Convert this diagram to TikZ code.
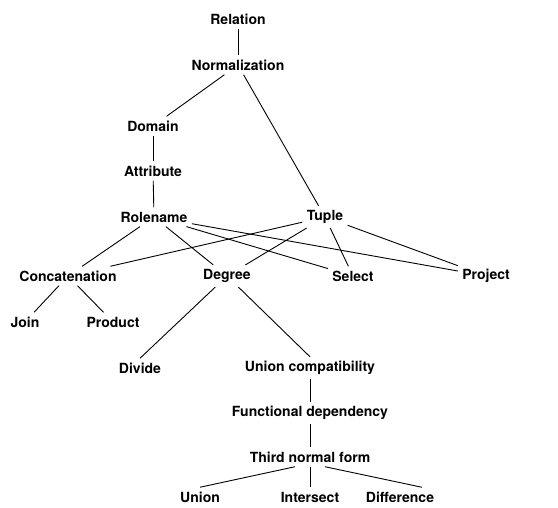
\documentclass[tikz,border=0pt]{standalone}
\usepackage{fontspec}
\setmainfont{TeX Gyre Heros}
\usepackage{tikz}
\usetikzlibrary{positioning}

\begin{document}
\begin{tikzpicture}[x=1pt,y=-1pt,line width=0.9pt,
  every node/.style={font=\fontsize{14}{16}\bfseries,inner sep=4pt}]
  \useasboundingbox (0,0) rectangle (558,508);
  \node (rel) at (238,19) {Relation};
  \node (norm) at (238,65) {Normalization};
  \node (dom) at (153,126) {Domain};
  \node (attr) at (153,171) {Attribute};
  \node (role) at (154,217) {Rolename};
  \node (tup) at (325,217) {Tuple};
  \node (conc) at (68,276) {Concatenation};
  \node (deg) at (227,276) {Degree};
  \node (sel) at (353,276) {Select};
  \node (proj) at (486,276) {Project};
  \node (join) at (25,322) {Join};
  \node (prod) at (113,322) {Product};
  \node (div) at (140,368) {Divide};
  \node (ucomp) at (310,368) {Union compatibility};
  \node (fdep) at (310,413) {Functional dependency};
  \node (tnf) at (310,457) {Third normal form};
  \node (un) at (200,497) {Union};
  \node (inter) at (310,497) {Intersect};
  \node (diff) at (400,497) {Difference};
  \draw (rel) -- (norm);
  \draw (norm) -- (dom);
  \draw (norm) -- (tup);
  \draw (dom) -- (attr);
  \draw (attr) -- (role);
  \draw (role) -- (conc);
  \draw (role) -- (deg);
  \draw (role) -- (sel);
  \draw (role) -- (proj);
  \draw (tup) -- (conc);
  \draw (tup) -- (deg);
  \draw (tup) -- (sel);
  \draw (tup) -- (proj);
  \draw (conc) -- (join);
  \draw (conc) -- (prod);
  \draw (deg) -- (div.north);
  \draw (deg) -- (ucomp.north);
  \draw (ucomp) -- (fdep);
  \draw (fdep) -- (tnf);
  \draw ([xshift=-15pt]tnf.south) -- (un.north);
  \draw (tnf) -- (inter);
  \draw ([xshift=15pt]tnf.south) -- ([xshift=22pt]diff.north);
\end{tikzpicture}
\end{document}
